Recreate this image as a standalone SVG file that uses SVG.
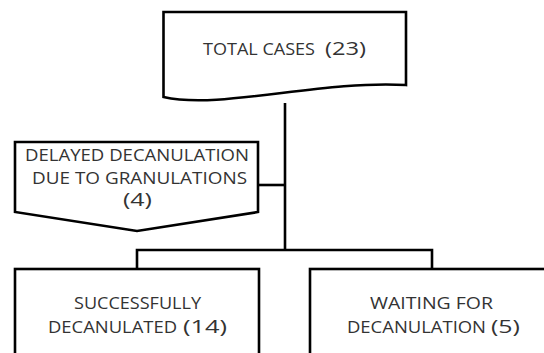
<svg xmlns="http://www.w3.org/2000/svg" width="544" height="353" viewBox="0 0 544 353">
<style>
.shape{fill:#ffffff;stroke:#000000;stroke-width:2.6;stroke-linejoin:miter}
.conn{fill:none;stroke:#000000;stroke-width:2.6}
.t{font-family:"Open Sans","Liberation Sans",sans-serif;font-size:16px;fill:#333333}
.n{font-family:"Open Sans","Liberation Sans",sans-serif;font-size:18px;fill:#333333}
</style>
<rect x="0" y="0" width="544" height="353" fill="#ffffff"/>
<g id="connectors">
<path class="conn" d="M285,103 V250"/>
<path class="conn" d="M258,185 H285"/>
<path class="conn" d="M137,269 V250 H432 V269"/>
</g>
<g id="total">
<path class="shape" d="M163.5,12 H406 V85 C320,80 220,110 163.5,97 Z"/>
<text class="t" x="203" y="55" textLength="112" lengthAdjust="spacingAndGlyphs">TOTAL CASES</text>
<text class="n" x="325" y="55" textLength="41" lengthAdjust="spacingAndGlyphs">(23)</text>
</g>
<g id="delayed">
<path class="shape" d="M15,142 H258 V212 L137,231 L15,212 Z"/>
<text class="t" x="25" y="161" textLength="224" lengthAdjust="spacingAndGlyphs">DELAYED DECANULATION</text>
<text class="t" x="32" y="184" textLength="215" lengthAdjust="spacingAndGlyphs">DUE TO GRANULATIONS</text>
<text class="n" x="123" y="206" textLength="29" lengthAdjust="spacingAndGlyphs">(4)</text>
</g>
<g id="success">
<rect class="shape" x="15" y="269" width="244" height="100"/>
<text class="t" x="74" y="309" textLength="127" lengthAdjust="spacingAndGlyphs">SUCCESSFULLY</text>
<text class="t" x="48" y="333" textLength="129" lengthAdjust="spacingAndGlyphs">DECANULATED</text>
<text class="n" x="183" y="333" textLength="44" lengthAdjust="spacingAndGlyphs">(14)</text>
</g>
<g id="waiting">
<rect class="shape" x="310" y="269" width="250" height="100"/>
<text class="t" x="370" y="309" textLength="123" lengthAdjust="spacingAndGlyphs">WAITING FOR</text>
<text class="t" x="347" y="333" textLength="139" lengthAdjust="spacingAndGlyphs">DECANULATION</text>
<text class="n" x="491" y="333" textLength="29" lengthAdjust="spacingAndGlyphs">(5)</text>
</g>
</svg>
